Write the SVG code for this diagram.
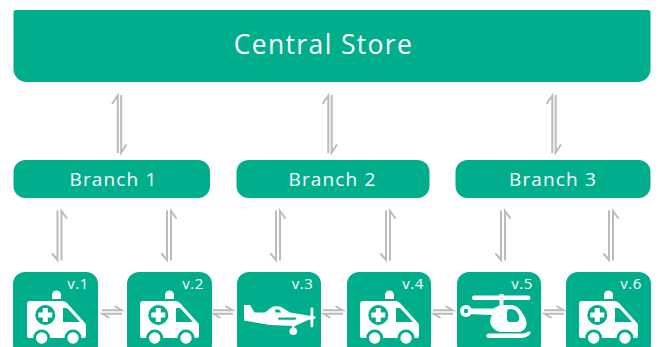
<svg xmlns="http://www.w3.org/2000/svg" xmlns:xlink="http://www.w3.org/1999/xlink" width="658" height="347" viewBox="0 0 658 347">
<style>
.box{fill:#00ae8c}
.lbl{font-family:"Open Sans","Noto Sans",sans-serif;fill:#fff;text-anchor:middle}
.big{font-size:26.500px;letter-spacing:1.350px}
.mid{font-size:19px;letter-spacing:1.150px}
.v{font-size:15px;letter-spacing:.5px}
.w{fill:#fff}
.g{fill:#00ae8c}
.h{fill:none;stroke:#bbb;stroke-width:2}
</style>
<defs>
<g id="amb">
<path class="w" d="M27 304q0-3 3-3H62q3 0 5 2L85 323q1 1 1 3V336q0 2-2 2H29q-2 0-2-2Z"/>
<path class="w" d="M52 299v-4a4.500 4.500 0 0 1 9 0v4Z"/>
<circle class="g" cx="45.300" cy="315" r="10"/>
<path class="w" d="M42.800 308h5v4.500h4.500v5h-4.500v4.500h-5v-4.500h-4.500v-5h4.500Z"/>
<path class="g" d="M63 308h3q1 0 2 1L80 322H63Z"/>
<circle class="g" cx="41.700" cy="338" r="8.500"/><circle class="w" cx="41.700" cy="338" r="5.700"/>
<circle class="g" cx="73" cy="338" r="8.500"/><circle class="w" cx="73" cy="338" r="5.700"/>
</g>
<g id="top">
<path class="h" d="M-1.700 58V0.500L-7.500 9"/>
<path class="h" d="M1.700 0V57.500L7 49.500"/>
</g>
<g id="low">
<path class="h" d="M-2 0V49.500L-7.500 43"/>
<path class="h" d="M2 50V0.500L7.500 8"/>
</g>
<g id="hh">
<path class="h" d="M0 -1.800H19.500L12.500 -6"/>
<path class="h" d="M20 1.800H0.500L7.500 6"/>
</g>
</defs>
<g id="connectors">
<use xlink:href="#top" href="#top" x="119.500" y="95"/>
<use xlink:href="#top" href="#top" x="330" y="95"/>
<use xlink:href="#top" href="#top" x="554" y="95"/>
<use xlink:href="#low" href="#low" x="59.500" y="210.500"/>
<use xlink:href="#low" href="#low" x="169" y="210.500"/>
<use xlink:href="#low" href="#low" x="278" y="210.500"/>
<use xlink:href="#low" href="#low" x="388" y="210.500"/>
<use xlink:href="#low" href="#low" x="503" y="210.500"/>
<use xlink:href="#low" href="#low" x="611" y="210.500"/>
<use xlink:href="#hh" href="#hh" x="102" y="312"/>
<use xlink:href="#hh" href="#hh" x="213" y="312"/>
<use xlink:href="#hh" href="#hh" x="323" y="312"/>
<use xlink:href="#hh" href="#hh" x="433" y="312"/>
<use xlink:href="#hh" href="#hh" x="544" y="312"/>
</g>
<g id="central"><path class="box" d="M16 10H648q2.500 0 2.500 2.500V69a13 13 0 0 1-13 13H26.500a13 13 0 0 1-13-13V12.500q0-2.500 2.500-2.500Z"/><text class="lbl big" x="323.500" y="54">Central Store</text></g>
<g id="branch1"><rect class="box" x="13.500" y="160" width="196.500" height="38" rx="12"/><text class="lbl mid" x="113.500" y="186">Branch 1</text></g>
<g id="branch2"><rect class="box" x="236.500" y="160" width="193" height="38" rx="12"/><text class="lbl mid" x="332.500" y="186">Branch 2</text></g>
<g id="branch3"><rect class="box" x="455.500" y="160" width="195" height="38" rx="12"/><text class="lbl mid" x="553" y="186">Branch 3</text></g>
<g id="v1"><rect class="box" x="13" y="272" width="85" height="85" rx="12"/><use xlink:href="#amb" href="#amb"/><text class="lbl v" x="78" y="289">v.1</text></g>
<g id="v2"><rect class="box" x="127" y="272" width="85" height="85" rx="12"/><use xlink:href="#amb" href="#amb" x="113"/><text class="lbl v" x="193" y="289">v.2</text></g>
<g id="v3"><rect class="box" x="237" y="272" width="84" height="85" rx="12"/>
<path class="w" d="M244 305H250L254.500 312.500L265 312.500Q269 309 273 306.500Q279 305.500 282 307.500L290 312.500L308 315.500L315.500 316.500V318.500L308 320L295 326L270 325L244 320.500Z"/>
<rect class="w" x="310.500" y="307.500" width="2.800" height="20" rx="1.400"/>
<path class="g" d="M275 309.500h4l2.500 3h-6Z"/>
<rect class="g" x="278" y="317.500" width="18" height="2.200" rx="1"/>
<rect class="w" x="292" y="324" width="2.400" height="5"/><circle class="w" cx="293.300" cy="331.300" r="3.800"/>
<text class="lbl v" x="302.500" y="289">v.3</text></g>
<g id="v4"><rect class="box" x="347" y="272" width="84" height="85" rx="12"/><use xlink:href="#amb" href="#amb" x="333"/><text class="lbl v" x="413" y="289">v.4</text></g>
<g id="v5"><rect class="box" x="457" y="272" width="84" height="85" rx="12"/>
<rect class="w" x="472" y="295.500" width="58.500" height="4.500" rx="2.200"/>
<rect class="w" x="499.500" y="294" width="4" height="13"/>
<path class="w" d="M466 308.500H493Q498 305 503 305H512Q519 306 523 314Q527 320 526.500 325Q525 331 519 332H501Q494 331 491 325Q489 320 492 315L466 314Z"/>
<circle class="w" cx="466" cy="311" r="6"/><circle class="g" cx="466" cy="311" r="2.200"/>
<path class="g" d="M507 313Q507 309 510 309Q515 309 517 312Q520 316 519 320Q518 322 516 322H510Q507 322 507 319Z"/>
<path class="w" d="M488 333.500H521Q526 333.500 528 331.500Q531 331 530.500 333.500Q527 338 521 338H488Q484.500 336 488 333.500Z"/>
<text class="lbl v" x="522" y="289">v.5</text></g>
<g id="v6"><rect class="box" x="566" y="272" width="85" height="85" rx="12"/><use xlink:href="#amb" href="#amb" x="552"/><text class="lbl v" x="631" y="289">v.6</text></g>
</svg>
